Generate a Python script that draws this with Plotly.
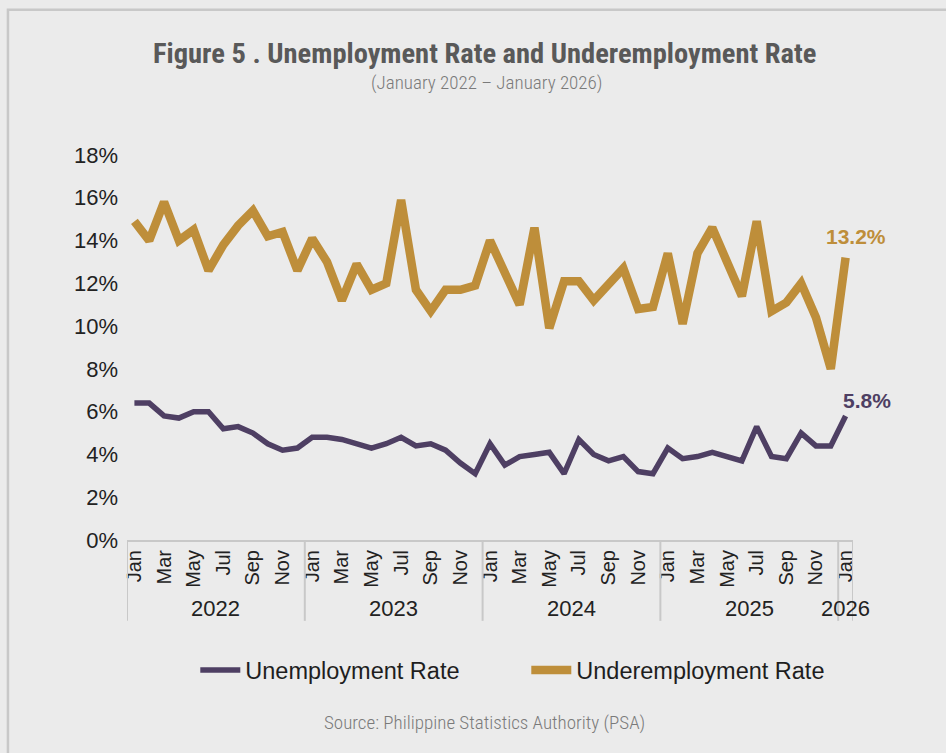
import plotly.graph_objects as go

# Monthly labour force survey rates, January 2022 - January 2026
years = [2022, 2023, 2024, 2025, 2026]
month_names = ["Jan", "Feb", "Mar", "Apr", "May", "Jun",
               "Jul", "Aug", "Sep", "Oct", "Nov", "Dec"]

unemployment = [
    6.4, 6.4, 5.8, 5.7, 6.0, 6.0, 5.2, 5.3, 5.0, 4.5, 4.2, 4.3,   # 2022
    4.8, 4.8, 4.7, 4.5, 4.3, 4.5, 4.8, 4.4, 4.5, 4.2, 3.6, 3.1,   # 2023
    4.5, 3.5, 3.9, 4.0, 4.1, 3.1, 4.7, 4.0, 3.7, 3.9, 3.2, 3.1,   # 2024
    4.3, 3.8, 3.9, 4.1, 3.9, 3.7, 5.3, 3.9, 3.8, 5.0, 4.4, 4.4,   # 2025
    5.8,                                                          # 2026
]
underemployment = [
    14.9, 14.0, 15.8, 14.0, 14.5, 12.6, 13.8, 14.7, 15.4, 14.2, 14.4, 12.6,
    14.1, 13.0, 11.2, 12.9, 11.7, 12.0, 15.9, 11.7, 10.7, 11.7, 11.7, 11.9,
    14.0, 12.5, 11.0, 14.6, 9.9, 12.1, 12.1, 11.2, 11.9, 12.7, 10.8, 10.9,
    13.4, 10.1, 13.4, 14.6, 13.0, 11.4, 14.9, 10.7, 11.1, 12.0, 10.4, 8.0,
    13.2,
]
y_ticks = [0, 2, 4, 6, 8, 10, 12, 14, 16, 18]

UNEMP_COLOR = "#4E3F63"
UNDER_COLOR = "#BE8E3A"
BG = "#EBEBEB"
AXIS_GREY = "#C8C8C8"
SANS = "Liberation Sans, Arial, sans-serif"
COND = "Roboto, Liberation Sans Narrow, sans-serif"


def condensed(text):
    return f'<span style="font-stretch:condensed">{text}</span>'


# Month index positions and their year
n = len(unemployment)
x = list(range(n))
month_of = [month_names[i % 12] for i in x]
year_of = [years[i // 12] for i in x]

fig = go.Figure()
fig.add_trace(go.Scatter(
    x=x, y=unemployment, mode="lines", name="Unemployment Rate",
    line=dict(color=UNEMP_COLOR, width=5.5), hoverinfo="skip",
))
fig.add_trace(go.Scatter(
    x=x, y=underemployment, mode="lines", name="Underemployment Rate",
    line=dict(color=UNDER_COLOR, width=8.5), hoverinfo="skip",
))

# Year group separators and labels under the month ticks
shapes = []
annotations = []
for yr in years:
    idx = [i for i in x if year_of[i] == yr]
    left = idx[0] - 0.5
    shapes.append(dict(type="line", xref="x", yref="paper",
                       x0=left, x1=left, y0=0, y1=-0.21,
                       line=dict(color=AXIS_GREY, width=2)))
    annotations.append(dict(x=(idx[0] + idx[-1]) / 2, y=-0.177, xref="x", yref="paper",
                            yanchor="middle", xanchor="center",
                            text=str(yr), showarrow=False,
                            font=dict(family=SANS, size=22, color="#222222")))
shapes.append(dict(type="line", xref="x", yref="paper",
                   x0=n - 0.5, x1=n - 0.5, y0=0, y1=-0.21,
                   line=dict(color=AXIS_GREY, width=2)))

# Outer frame of the figure panel
shapes.append(dict(type="rect", xref="paper", yref="paper",
                   x0=-0.164, x1=1.2, y0=-0.6, y1=1.377,
                   line=dict(color=AXIS_GREY, width=2.5), layer="below"))

# End-point value labels
annotations.append(dict(x=x[-1], y=underemployment[-1], xref="x", yref="y",
                        text=f"{underemployment[-1]:.1f}%", showarrow=False,
                        xshift=10, yshift=21,
                        font=dict(family=SANS, size=21, color=UNDER_COLOR, weight="bold")))
annotations.append(dict(x=x[-1], y=unemployment[-1], xref="x", yref="y",
                        text=f"{unemployment[-1]:.1f}%", showarrow=False,
                        xshift=21, yshift=15,
                        font=dict(family=SANS, size=21, color=UNEMP_COLOR, weight="bold")))

# Titles and source note (placed in pixels relative to the plot bottom)
annotations.append(dict(x=0.5, y=0.0, xref="paper", yref="paper",
                        xanchor="center", yanchor="middle",
                        text=condensed("Figure 5 . Unemployment Rate and Underemployment Rate"),
                        showarrow=False, yshift=540 - 53, xshift=-6,
                        font=dict(family=COND, size=28.5, color="#595959", weight="bold")))
annotations.append(dict(x=0.5, y=0.0, xref="paper", yref="paper",
                        xanchor="center", yanchor="middle",
                        text=condensed("(January 2022 – January 2026)"),
                        showarrow=False, yshift=540 - 82, xshift=-4,
                        font=dict(family=COND, size=19, color="#7A7A7A", weight=300)))
annotations.append(dict(x=0.5, y=0.0, xref="paper", yref="paper",
                        xanchor="center", yanchor="middle",
                        text=condensed("Source: Philippine Statistics Authority (PSA)"),
                        showarrow=False, yshift=540 - 722, xshift=-6,
                        font=dict(family=COND, size=19, color="#7A7A7A", weight=300)))

fig.update_layout(
    width=946, height=753,
    paper_bgcolor=BG, plot_bgcolor=BG,
    margin=dict(l=127, r=93, t=155, b=213),
    showlegend=True,
    legend=dict(orientation="h", x=0.55, xanchor="center", y=-0.338, yanchor="middle",
                font=dict(family=SANS, size=23.5, color="#1E1E1E"),
                bgcolor="rgba(0,0,0,0)", itemwidth=40, tracegroupgap=0,
                entrywidth=276),
    shapes=shapes,
    annotations=annotations,
    xaxis=dict(
        range=[-0.5, n - 0.5],
        tickmode="array",
        tickvals=[i for i in x if i % 2 == 0],
        ticktext=[month_of[i] for i in x if i % 2 == 0],
        tickangle=-90,
        tickfont=dict(family=SANS, size=20, color="#222222"),
        showgrid=False, zeroline=False,
        showline=True, linecolor=AXIS_GREY, linewidth=2,
        ticks="", ticklen=0,
    ),
    yaxis=dict(
        range=[0, 18],
        tickmode="array",
        tickvals=y_ticks,
        ticktext=[f"{v}%" for v in y_ticks],
        tickfont=dict(family=SANS, size=22, color="#222222"),
        showgrid=False, zeroline=False, showline=False,
        ticks="", ticklabelstandoff=8,
    ),
)

fig.write_html("out.html")
